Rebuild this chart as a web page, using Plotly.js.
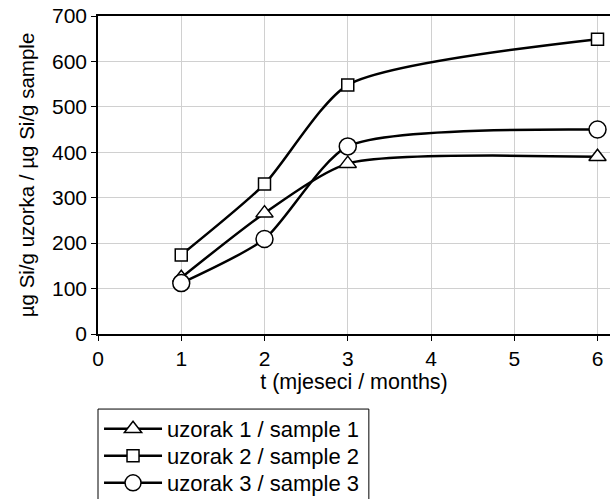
<!DOCTYPE html>
<html>
<head>
<meta charset="utf-8">
<script src="https://cdn.plot.ly/plotly-3.0.1.min.js"></script>
<style>body{margin:0;padding:0;background:#fff}#chart{width:610px;height:499px}</style>
</head>
<body>
<div id="chart"></div>
<script>
const months = [1, 2, 3, 6];
const sample1 = [124, 266, 375, 390];
const sample2 = [174, 330, 548, 649];
const sample3 = [112, 209, 413, 450];
const names = ["uzorak 1 / sample 1", "uzorak 2 / sample 2", "uzorak 3 / sample 3"];
const xTitle = "t (mjeseci / months)";
const yTitle = "µg Si/g uzorka / µg Si/g sample";

const symbols = ["triangle-up", "square", "circle"];
const sizes = [15, 12, 17];
const series = [sample1, sample2, sample3];
const legendIds = ["legend", "legend2", "legend3"];

const traces = series.map((vals, i) => ({
  x: months, y: vals, name: names[i], type: "scatter", mode: "lines+markers",
  legend: legendIds[i],
  line: {color: "#000", width: 2.5, shape: "spline", smoothing: 0.65},
  marker: {symbol: symbols[i], size: sizes[i], color: "#fff",
           line: {color: "#000", width: 1.5}},
  cliponaxis: false
}));

const fam = "Liberation Sans, Arial, sans-serif";
// legend rows (paper y of row centres)
const rowY = [-0.2987, -0.3836, -0.4686];
const layout = {
  width: 610, height: 499,
  margin: {l: 98, r: 0, t: 16, b: 165, autoexpand: false},
  paper_bgcolor: "#fff", plot_bgcolor: "#fff",
  font: {family: fam, size: 21, color: "#000"},
  showlegend: true,
  xaxis: {range: [0, 6.15], tickvals: [0,1,2,3,4,5,6], showline: true, linecolor: "#000", linewidth: 1.5,
          mirror: true, ticks: "outside", ticklen: 5, tickcolor: "#000", gridcolor: "#d0d0d0",
          zeroline: false, title: {text: xTitle, standoff: 2, font: {size: 21.5}}, tickfont: {size: 21}},
  yaxis: {range: [0, 700], tickvals: [0,100,200,300,400,500,600,700], showline: true, linecolor: "#000",
          linewidth: 1.5, ticks: "outside", ticklen: 5, tickcolor: "#000", gridcolor: "#d0d0d0",
          zeroline: false, title: {text: yTitle, standoff: 12, font: {size: 20.5}}, tickfont: {size: 21}},
  shapes: [{type: "rect", xref: "paper", yref: "paper", x0: 0, x1: 0.529, y0: -0.236, y1: -0.62,
            line: {color: "#000", width: 1}, fillcolor: "rgba(0,0,0,0)"}]
};
legendIds.forEach((id, i) => {
  layout[id] = {x: 0.002, xanchor: "left", y: rowY[i], yanchor: "middle", borderwidth: 0,
                bgcolor: "rgba(0,0,0,0)", font: {family: fam, size: 22, color: "#000"}, itemwidth: 58};
});
Plotly.newPlot("chart", traces, layout, {displayModeBar: false});
</script>
</body>
</html>
